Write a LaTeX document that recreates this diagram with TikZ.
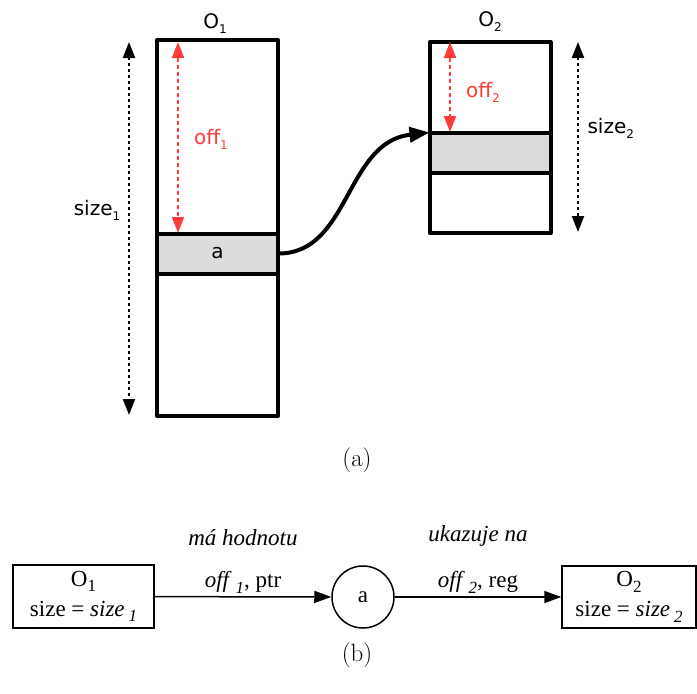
\documentclass[tikz,border=0pt]{standalone}
\usepackage{fontspec}
\usetikzlibrary{arrows.meta}
\newfontfamily\dejavu{DejaVu Sans}
\newfontfamily\libser{Liberation Serif}
\definecolor{offred}{HTML}{FF3B3B}
\definecolor{bandgrey}{HTML}{DCDCDC}
\newcommand\topsub[1]{\raisebox{-0.45ex}{\fontsize{12}{12}\selectfont #1}}
\newcommand\botsub[1]{\raisebox{-0.5ex}{\fontsize{17}{17}\selectfont #1}}
\tikzset{
  topfont/.style={font=\dejavu\fontsize{20}{24}\selectfont},
  botfont/.style={font=\libser\fontsize{23}{26}\selectfont},
  capfont/.style={font=\fontsize{25}{30}\selectfont},
  memblock/.style={draw, line width=4pt, line join=round, minimum width=121pt, inner sep=0pt, outer sep=0pt},
  band/.style={memblock, fill=bandgrey, minimum height=40pt, topfont},
  sizearrow/.style={line width=2.2pt, dash pattern=on 3pt off 3pt, {Triangle[length=16pt,width=12pt]}-{Triangle[length=16pt,width=12pt]}},
  offarrow/.style={offred, line width=2pt, dash pattern=on 4pt off 3pt, {Triangle[length=16pt,width=12pt]}-{Triangle[length=16pt,width=12pt]}},
  ptrarrow/.style={line width=4pt, -{Triangle[length=20pt,width=15pt]}},
  objbox/.style={draw, line width=1.5pt, botfont, align=center, inner sep=0pt},
  valnode/.style={draw, circle, line width=1.5pt, minimum size=62pt, botfont, inner sep=0pt},
  rel/.style={line width=1.5pt, -{Triangle[length=17pt,width=12pt]}},
}
\begin{document}
\begin{tikzpicture}[x=1pt,y=-1pt]
\useasboundingbox (0,0) rectangle (697,694);
% ---------- (a) ----------
\node[memblock, minimum height=376pt] (o1) at (217.5,228) {};
\node[band] (band1) at (217.5,253.5) {a};
\node[memblock, minimum height=191pt] (o2) at (490,137.5) {};
\node[band] (band2) at (490,152.5) {};
\node[topfont] (o1lbl) at (215,24) {O\topsub{1}};
\node[topfont] (o2lbl) at (490,22) {O\topsub{2}};
\coordinate (s1t) at (129,42);
\coordinate (s1b) at (129,415);
\draw[sizearrow] (s1t) -- (s1b);
\node[topfont] (s1lbl) at (97,210) {size\topsub{1}};
\coordinate (s2t) at (578,42);
\coordinate (s2b) at (578,232);
\draw[sizearrow] (s2t) -- (s2b);
\node[topfont, anchor=west] (s2lbl) at (584,128) {size\topsub{2}};
\coordinate (f1t) at (178,42);
\coordinate (f1b) at (178,233);
\draw[offarrow] (f1t) -- (f1b);
\node[topfont, text=offred] (f1lbl) at (211,139) {off\topsub{1}};
\coordinate (f2t) at (450,42);
\coordinate (f2b) at (450,132);
\draw[offarrow] (f2t) -- (f2b);
\node[topfont, text=offred] (f2lbl) at (483,92) {off\topsub{2}};
\draw[ptrarrow] (band1.east) .. controls (350,254) and (345,142) .. (band2.north west);
\node[capfont] (capa) at (357,460) {(a)};
% ---------- (b) ----------
\node[objbox, minimum width=141pt, minimum height=63pt] (b1) at (83.5,596.5)
  {O\botsub{1}\\[4pt]size = \textit{size}\,\botsub{\textit{1}}};
\node[valnode] (ba) at (363,597) {a};
\node[objbox, minimum width=134pt, minimum height=62pt] (b2) at (629,597)
  {O\botsub{2}\\[4pt]size = \textit{size}\,\botsub{\textit{2}}};
\draw[rel] (b1) -- node[botfont, above, inner sep=3pt] (l1) {\textit{off}\,\botsub{\textit{1}}, ptr}
  node[botfont, above, yshift=47pt] (l1b) {\textit{má hodnotu}} (ba);
\draw[rel] (ba) -- node[botfont, above, inner sep=3pt] (l2) {\textit{off}\,\botsub{\textit{2}}, reg}
  node[botfont, above, yshift=47pt] (l2b) {\textit{ukazuje na}} (b2);
\node[capfont] (capb) at (357,655) {(b)};
\end{tikzpicture}
\end{document}
